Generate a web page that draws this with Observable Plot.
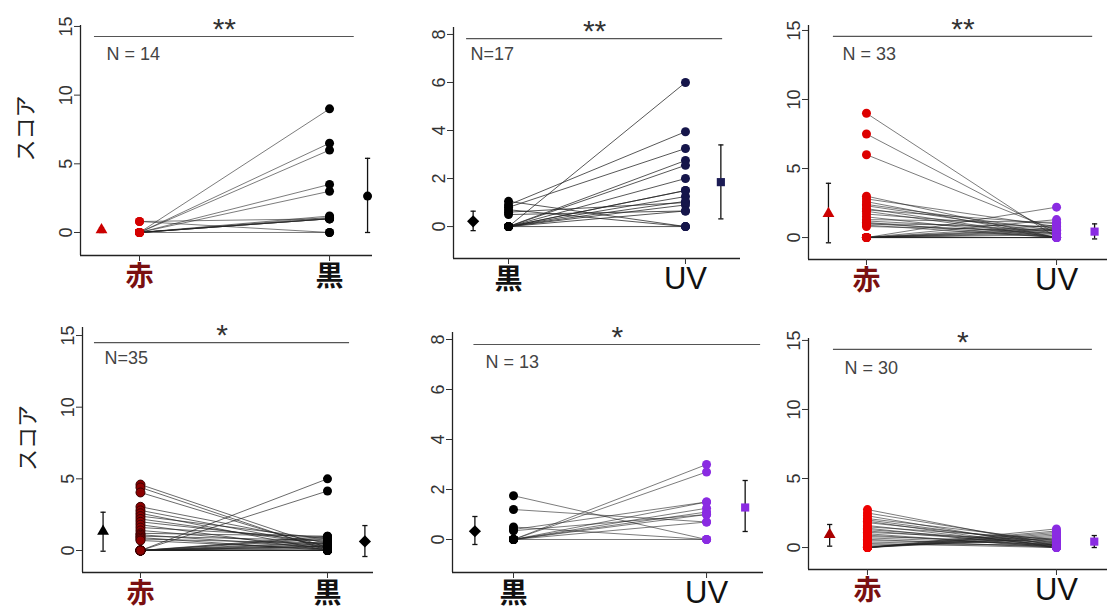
<!DOCTYPE html>
<html><head><meta charset="utf-8">
<script src="https://cdn.jsdelivr.net/npm/d3@7"></script>
<script src="https://cdn.jsdelivr.net/npm/@observablehq/plot@0.6"></script>
<style>
body{margin:0;background:#fff;}
#chart{position:relative;width:1107px;height:616px;overflow:hidden;background:#fff;}
#chart svg{position:absolute;}
</style></head><body><div id="chart"></div>
<script>
// ---------- DATA ----------
const p1Cats = ["赤", "黒"];
const p1Left  = [0.8, 0.8, 0, 0, 0, 0, 0, 0, 0, 0, 0, 0, 0, 0];
const p1Right = [1.0, 0, 9, 6.5, 6, 3.5, 3, 1.2, 1.1, 1, 1, 1, 1, 0];
const p1Mean = [0.2, 2.65], p1Low = [0.0, 0], p1High = [0.35, 5.4];

const p2Cats = ["黒", "UV"];
const p2Left  = [0, 0.9, 0.8, 0, 0, 0, 0, 0, 0, 0, 0, 0, 1.05, 0.7, 0.6, 0.5, 0];
const p2Right = [6, 3.95, 3.25, 2.75, 2.55, 2.0, 1.5, 1.25, 1.05, 0.9, 0.65, 0, 0, 0, 1.0, 0.65, 1.5];
const p2Mean = [0.22, 1.85], p2Low = [-0.17, 0.32], p2High = [0.64, 3.4];

const p3Cats = ["赤", "UV"];
const p3Left  = [9, 7.5, 6, 3.0, 2.8, 2.6, 2.4, 2.3, 2.1, 2.0, 1.9, 1.7, 1.5, 1.3, 1.2, 1.1, 1.0, 1.0, 0.9, 0.8, 0, 0, 0, 0, 0, 0, 0, 0, 0, 0, 0, 0, 0];
const p3Right = [0, 0.3, 0.5, 0, 0.8, 0, 0.5, 0.3, 0, 1.0, 0, 0.7, 0, 1.1, 0.5, 0, 0.3, 0.8, 0, 0.5, 2.2, 1.3, 0.9, 0.7, 0.5, 0.3, 0.2, 0, 0, 0, 0.6, 0.4, 0];
const p3Mean = [1.74, 0.43], p3Low = [-0.38, -0.1], p3High = [3.93, 0.99];

const p4Cats = ["赤", "黒"];
const p4Left  = [4.6, 4.4, 4.05, 3.05, 2.8, 2.6, 2.4, 2.2, 2.0, 1.8, 1.6, 1.4, 1.2, 1.1, 1.0, 0.9, 0.8, 0.7, 0, 0, 0, 0, 0, 0, 0, 0, 0, 0, 0, 0, 0, 0, 0, 0, 0];
const p4Right = [0.2, 0, 0.1, 0.5, 0.3, 0, 0.8, 0.4, 0.6, 0, 0.9, 0.3, 1.0, 0.2, 0.7, 0, 0.5, 0.1, 5.0, 4.15, 0.9, 0.6, 0.3, 0, 0, 0.8, 0.5, 0.2, 0, 1.0, 0.4, 0, 0.1, 0.3, 0];
const p4Mean = [1.33, 0.63], p4Low = [-0.05, -0.42], p4High = [2.67, 1.74];

const p5Cats = ["黒", "UV"];
const p5Left  = [1.75, 1.2, 0.5, 0.4, 0.35, 0, 0, 0, 0, 0, 0, 0, 0];
const p5Right = [0, 0.7, 0, 1.5, 1.0, 3.0, 2.7, 1.5, 1.25, 1.1, 1.0, 0.7, 0];
const p5Mean = [0.33, 1.28], p5Low = [-0.2, 0.32], p5High = [0.92, 2.36];

const p6Cats = ["赤", "UV"];
const p6Left  = [2.75, 2.5, 2.3, 2.1, 2.0, 1.9, 1.8, 1.6, 1.5, 1.4, 1.3, 1.2, 1.1, 1.0, 0.9, 0.8, 0.7, 0.6, 0.5, 0.4, 0.3, 0.2, 0.1, 0, 0, 0, 0, 0, 0, 0];
const p6Right = [0.1, 0.3, 0, 0.5, 0.2, 0, 0.4, 0.1, 0.6, 0, 0.3, 0.2, 0.5, 0, 0.1, 0.4, 0.2, 0, 0.3, 0.1, 0, 0.2, 0.6, 1.35, 1.2, 1.1, 0.9, 0.8, 0.7, 1.0];
const p6Mean = [0.94, 0.43], p6Low = [0.1, 0], p6High = [1.67, 0.87];

const starLabels = ["**", "**", "**", "*", "*", "*"];
const nLabels = ["N = 14", "N=17", "N = 33", "N=35", "N = 13", "N = 30"];
const sigY  = [14.27, 7.83, 14.57, 14.5, 7.8, 14.35];
const sigX1 = [0.763, 0.763, 0.826, 0.754, 0.795, 0.82];
const sigX2 = [2.13, 2.21, 2.19, 2.118, 2.28, 2.19];
const nX = [0.826, 0.785, 0.874, 0.807, 0.855, 0.878];
const nY = [12.96, 7.17, 13.3, 13.4, 7.08, 13.0];
const yTicks15 = [0, 5, 10, 15];
const yTicks8 = [0, 2, 4, 6, 8];
const yLabel = "スコア";

// ---------- LAYOUT / STYLE ----------
const layout = [
  {left: 0,   top: 0,   w: 380, h: 305, mL: 80, mR: 8,  mT: 25, mB: 50, xd: [0.6895, 2.226], yd: [-1.675, 15.07], ticks: yTicks15, ylab: true},
  {left: 370, top: 0,   w: 380, h: 305, mL: 83, mR: 10, mT: 27, mB: 47, xd: [0.689, 2.311],  yd: [-1.33, 8.29],   ticks: yTicks8,  ylab: false},
  {left: 740, top: 0,   w: 367, h: 305, mL: 68, mR: 0,  mT: 25, mB: 46, xd: [0.695, 2.268],  yd: [-1.59, 15.36],  ticks: yTicks15, ylab: false},
  {left: 0,   top: 305, w: 380, h: 311, mL: 82, mR: 7,  mT: 22, mB: 44, xd: [0.69, 2.246],   yd: [-1.535, 15.56], ticks: yTicks15, ylab: true},
  {left: 370, top: 305, w: 400, h: 311, mL: 82, mR: 7,  mT: 27, mB: 44, xd: [0.684, 2.295],  yd: [-1.32, 8.28],   ticks: yTicks8,  ylab: false},
  {left: 740, top: 305, w: 367, h: 311, mL: 68, mR: 0,  mT: 33, mB: 47, xd: [0.688, 2.27],   yd: [-1.59, 15.14],  ticks: yTicks15, ylab: false}
];
const RED_LABEL = "#7a1010";
const styles = [
  {lf: "#d40000", ls: "none", rf: "#000", lw: 0.7, sym: ["triangle", "circle"], mc: ["#cc0000", "#000"]},
  {lf: "#000", ls: "none", rf: "#15154a", lw: 0.9, sym: ["diamond2", "square"], mc: ["#000", "#1c1c55"]},
  {lf: "#dd0000", ls: "none", rf: "#8a2be2", lw: 0.7, sym: ["triangle", "square"], mc: ["#cc0000", "#8a2be2"]},
  {lf: "#8b0000", ls: "#3a0000", rf: "#000", lw: 0.8, sym: ["triangle", "diamond2"], mc: ["#000", "#000"]},
  {lf: "#000", ls: "none", rf: "#8a2be2", lw: 0.7, sym: ["diamond2", "square"], mc: ["#000", "#8a2be2"]},
  {lf: "#ee0000", ls: "none", rf: "#8a2be2", lw: 0.7, sym: ["triangle", "square"], mc: ["#aa0000", "#8a2be2"]}
];
const symbolR = {triangle: 4.4, circle: 4.5, diamond2: 5.5, square: 4.6};

const panelData = [
  [p1Cats, p1Left, p1Right, p1Mean, p1Low, p1High],
  [p2Cats, p2Left, p2Right, p2Mean, p2Low, p2High],
  [p3Cats, p3Left, p3Right, p3Mean, p3Low, p3High],
  [p4Cats, p4Left, p4Right, p4Mean, p4Low, p4High],
  [p5Cats, p5Left, p5Right, p5Mean, p5Low, p5High],
  [p6Cats, p6Left, p6Right, p6Mean, p6Low, p6High]
];

const capSymbol = {draw(ctx, size) { const r = Math.sqrt(size / Math.PI); ctx.moveTo(-r, 0); ctx.lineTo(r, 0); }};
const MEAN_OFFSET = 0.2;

const chart = document.getElementById("chart");

panelData.forEach(([cats, L, R, M, LO, HI], i) => {
  const g = layout[i], s = styles[i];
  const pairs = L.map((v, k) => ({a: v, b: R[k]}));
  const summary = M.map((m, k) => ({x: k === 0 ? 1 - MEAN_OFFSET : 2 + MEAN_OFFSET, m, lo: LO[k], hi: HI[k], sym: s.sym[k], c: s.mc[k]}));
  const marks = [
    Plot.ruleX([g.xd[0]], {stroke: "#222", strokeWidth: 1.3}),
    Plot.ruleY([g.yd[0]], {stroke: "#222", strokeWidth: 1.3}),
    Plot.axisY({ticks: g.ticks, tickSize: 6, tickRotate: -90, tickPadding: 3, label: null, fontSize: 18, color: "#333", fontFamily: "Liberation Sans"}),
    Plot.axisX({ticks: [1, 2], tickSize: 6, tickFormat: () => "", label: null, color: "#333"}),
    Plot.ruleY([sigY[i]], {x1: sigX1[i], x2: sigX2[i], stroke: "#555", strokeWidth: 1.2}),
    Plot.text([starLabels[i]], {x: (sigX1[i] + sigX2[i]) / 2, y: sigY[i], text: d => d, dy: -7, fontSize: 30, fill: "#333", fontFamily: "Liberation Sans"}),
    Plot.text([nLabels[i]], {x: nX[i], y: nY[i], text: d => d, textAnchor: "start", fontSize: 18, fill: "#444", fontFamily: "Liberation Sans"}),
    Plot.link(pairs, {x1: 1, x2: 2, y1: "a", y2: "b", stroke: "#222", strokeWidth: s.lw, strokeOpacity: 0.85}),
    Plot.dot(L, {x: 1, y: d => d, r: 4.5, fill: s.lf, stroke: s.ls, strokeWidth: 1}),
    Plot.dot(R, {x: 2, y: d => d, r: 4.5, fill: s.rf}),
    Plot.ruleX(summary, {x: "x", y1: "lo", y2: "hi", stroke: "#111", strokeWidth: 1.3}),
    Plot.dot(summary, {x: "x", y: "lo", symbol: capSymbol, r: 2.6, fill: "none", stroke: "#111", strokeWidth: 1.3}),
    Plot.dot(summary, {x: "x", y: "hi", symbol: capSymbol, r: 2.6, fill: "none", stroke: "#111", strokeWidth: 1.3})
  ];
  summary.forEach(d => marks.push(Plot.dot([d], {x: "x", y: "m", symbol: d.sym, r: symbolR[d.sym], fill: d.c})));
  cats.forEach((c, k) => {
    const cjk = c !== "UV";
    marks.push(Plot.text([c], {x: k + 1, text: d => d, frameAnchor: "bottom", dy: 30,
      fontSize: cjk ? 28 : 31, fontWeight: cjk ? "bold" : "normal",
      fontFamily: cjk ? "Noto Sans CJK JP" : "Liberation Sans",
      fill: c === "赤" ? RED_LABEL : "#111"}));
  });
  if (g.ylab) {
    marks.push(Plot.text([yLabel], {text: d => d, frameAnchor: "left", textAnchor: "middle", dx: -55, dy: -12, rotate: -90,
      fontSize: 22, fill: "#222", fontFamily: "Noto Sans CJK JP"}));
  }
  const svg = Plot.plot({
    width: g.w, height: g.h,
    marginLeft: g.mL, marginRight: g.mR, marginTop: g.mT, marginBottom: g.mB,
    x: {domain: g.xd, axis: null},
    y: {domain: g.yd, axis: null},
    style: {background: "transparent", overflow: "visible", fontFamily: "Liberation Sans"},
    marks
  });
  svg.style.left = g.left + "px";
  svg.style.top = g.top + "px";
  svg.style.maxWidth = "none";
  chart.appendChild(svg);
});
</script></body></html>
